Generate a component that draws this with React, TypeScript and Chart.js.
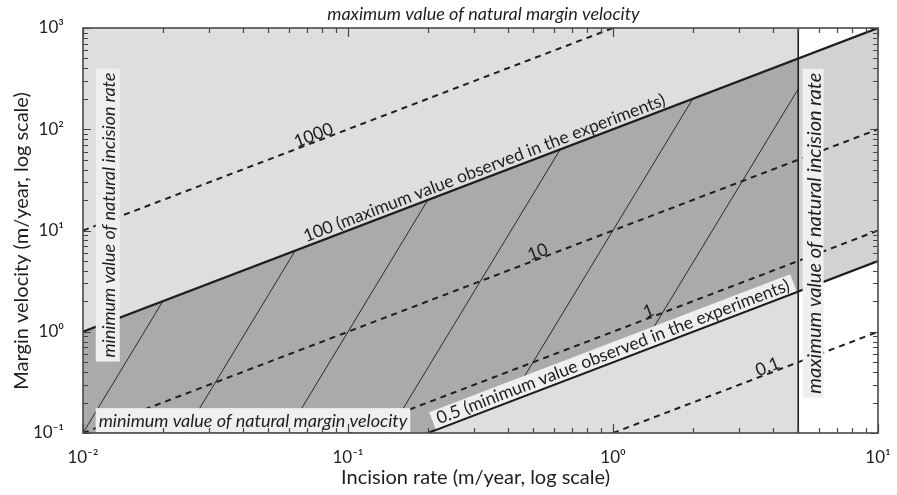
import React, { useEffect, useRef } from "react";
import { Chart, registerables } from "chart.js";
Chart.register(...registerables);

const FONT = "Lato, 'Noto Sans', sans-serif";
const TICK_FONT = "Lato, 'Noto Sans', 'DejaVu Sans', sans-serif";

// axis ranges and tick labels
const xRange = [0.01, 10];
const yRange = [0.1, 1000];
const xDecades = [0.01, 0.1, 1, 10];
const xTickLabels = ["10⁻²", "10⁻¹", "10⁰", "10¹"];
const yDecades = [0.1, 1, 10, 100, 1000];
const yTickLabels = ["10⁻¹", "10⁰", "10¹", "10²", "10³"];
const minorMultipliers = [2, 3, 4, 5, 6, 7, 8, 9];

const xTitle = "Incision rate (m/year, log scale)";
const yTitle = "Margin velocity (m/year, log scale)";
const topTitle = "maximum value of natural margin velocity";

// ratio lines (margin velocity / incision rate)
const dashed1000 = [{ x: 0.01, y: 10 }, { x: 1, y: 1000 }];
const dashed10 = [{ x: 0.01, y: 0.1 }, { x: 10, y: 100 }];
const dashed1 = [{ x: 0.1, y: 0.1 }, { x: 10, y: 10 }];
const dashed01 = [{ x: 1, y: 0.1 }, { x: 10, y: 1 }];
const solid100 = [{ x: 0.01, y: 1 }, { x: 10, y: 1000 }];
const solid05 = [{ x: 0.2, y: 0.1 }, { x: 10, y: 5 }];
const maxIncisionLine = [{ x: 5, y: 0.1 }, { x: 5, y: 1000 }];

// thin oblique lines inside the experimental range
const thin1 = [{ x: 0.01, y: 0.1 }, { x: 0.02, y: 2 }];
const thin2 = [{ x: 0.0242, y: 0.1 }, { x: 0.0632, y: 6.32 }];
const thin3 = [{ x: 0.0587, y: 0.1 }, { x: 0.2, y: 20 }];
const thin4 = [{ x: 0.142, y: 0.1 }, { x: 0.632, y: 63.2 }];
const thin5 = [{ x: 0.405, y: 0.203 }, { x: 2, y: 200 }];
const thin6 = [{ x: 1.25, y: 0.63 }, { x: 5, y: 250 }];
const thinLines = [thin1, thin2, thin3, thin4, thin5, thin6];

// shaded regions (data coordinates)
const naturalRegion = [[0.01, 0.1], [0.01, 1000], [5, 1000], [5, 0.1]];
const overlapRegion = [[0.01, 0.1], [0.01, 1], [5, 500], [5, 2.5], [0.2, 0.1]];
const experimentOnlyRegion = [[5, 500], [10, 1000], [10, 5], [5, 2.5]];

// labels along ratio lines: ratio, x position of label centre
const lineLabelTexts = ["1000", "100 (maximum value observed in the experiments)", "10", "1", "0.5 (minimum value observed in the experiments)", "0.1"];
const lineLabelRatios = [1000, 100, 10, 1, 0.5, 0.1];
const lineLabelAt = [0.0757, 0.337, 0.531, 1.39, 1.03, 3.91];

const vertLabelTexts = ["minimum value of natural incision rate", "maximum value of natural incision rate"];
const vertLabelX = [0.0124, 5.69];
const vertLabelY = [14.2, 9.4];
const vertLabelSize = [18, 20];
const vertBoxWidth = [24, 21];
const bottomLabelText = "minimum value of natural margin velocity";
const bottomLabelPos = [0.0438, 0.134];

const LIGHT = "#dedede";
const DARK = "#aaaaaa";
const MID = "#d2d2d2";
const BOX = "#efefef";
const INK = "#1e1e1e";

function buildTicks(decades: number[]) {
  const out: number[] = [];
  for (let i = 0; i < decades.length; i++) {
    out.push(decades[i]);
    if (i < decades.length - 1) minorMultipliers.forEach((m) => out.push(+(m * decades[i]).toPrecision(6)));
  }
  return out;
}
const xTicksAll = buildTicks(xDecades);
const yTicksAll = buildTicks(yDecades);

function labelFor(v: number, decades: number[], labels: string[]) {
  for (let i = 0; i < decades.length; i++) if (Math.abs(v - decades[i]) / decades[i] < 1e-6) return labels[i];
  return "";
}
function isMajor(v: number, decades: number[]) {
  return decades.some((d) => Math.abs(v - d) / d < 1e-6);
}

const decorPlugin = {
  id: "decor",
  beforeDatasetsDraw(chart: any) {
    const { ctx, chartArea: a, scales } = chart;
    const xs = scales.x, ys = scales.y;
    const poly = (pts: number[][], color: string) => {
      ctx.beginPath();
      pts.forEach((p, i) => {
        const px = xs.getPixelForValue(p[0]), py = ys.getPixelForValue(p[1]);
        if (i === 0) ctx.moveTo(px, py); else ctx.lineTo(px, py);
      });
      ctx.closePath();
      ctx.fillStyle = color;
      ctx.fill();
    };
    ctx.save();
    ctx.fillStyle = "#ffffff";
    ctx.fillRect(a.left, a.top, a.right - a.left, a.bottom - a.top);
    poly(naturalRegion, LIGHT);
    poly(experimentOnlyRegion, MID);
    poly(overlapRegion, DARK);
    ctx.restore();
  },
  afterDatasetsDraw(chart: any) {
    const { ctx, scales } = chart;
    const xs = scales.x, ys = scales.y;
    ctx.save();
    // labels along lines
    lineLabelTexts.forEach((text, i) => {
      const r = lineLabelRatios[i], xv = lineLabelAt[i];
      const x1 = xs.getPixelForValue(xv), y1 = ys.getPixelForValue(r * xv);
      const x2 = xs.getPixelForValue(xv * 2), y2 = ys.getPixelForValue(r * xv * 2);
      const ang = Math.atan2(y2 - y1, x2 - x1);
      const long = text.length > 5;
      const size = 17.5;
      ctx.save();
      ctx.translate(x1, y1);
      ctx.rotate(ang);
      ctx.font = `${size}px ${FONT}`;
      ctx.textAlign = "center";
      ctx.textBaseline = "alphabetic";
      const lift = long ? 4 : 1;
      if (text.startsWith("0.5")) {
        const w = ctx.measureText(text).width;
        ctx.fillStyle = BOX;
        ctx.fillRect(-w / 2 - 5, -lift - 15, w + 10, 14 + lift);
      }
      ctx.fillStyle = INK;
      ctx.fillText(text, 0, -lift);
      ctx.restore();
    });
    // vertical italic labels with boxes
    vertLabelTexts.forEach((text, i) => {
      const px = xs.getPixelForValue(vertLabelX[i]);
      const py = ys.getPixelForValue(vertLabelY[i]);
      ctx.save();
      ctx.translate(px, py);
      ctx.rotate(-Math.PI / 2);
      ctx.font = `italic ${vertLabelSize[i]}px ${FONT}`;
      const w = ctx.measureText(text).width;
      const bw = vertBoxWidth[i];
      ctx.fillStyle = BOX;
      ctx.fillRect(-w / 2 - 4, -bw / 2, w + 8, bw);
      ctx.fillStyle = INK;
      ctx.textAlign = "center";
      ctx.textBaseline = "middle";
      ctx.fillText(text, 0, 1);
      ctx.restore();
    });
    // bottom label
    {
      const px = xs.getPixelForValue(bottomLabelPos[0]);
      const py = ys.getPixelForValue(bottomLabelPos[1]);
      ctx.font = `italic 18px ${FONT}`;
      const w = ctx.measureText(bottomLabelText).width;
      ctx.fillStyle = BOX;
      ctx.fillRect(px - w / 2 - 3, py - 12, w + 6, 24);
      ctx.fillStyle = INK;
      ctx.textAlign = "center";
      ctx.textBaseline = "middle";
      ctx.fillText(bottomLabelText, px, py + 1);
    }
    ctx.restore();
  },
  afterDraw(chart: any) {
    const { ctx, chartArea: a, scales } = chart;
    const xs = scales.x, ys = scales.y;
    ctx.save();
    ctx.strokeStyle = "#444";
    ctx.lineWidth = 1.2;
    ctx.beginPath();
    xTicksAll.forEach((v) => {
      const p = Math.round(xs.getPixelForValue(v)) + 0.5;
      const len = isMajor(v, xDecades) ? 9 : 5;
      ctx.moveTo(p, a.bottom); ctx.lineTo(p, a.bottom - len);
      ctx.moveTo(p, a.top); ctx.lineTo(p, a.top + len);
    });
    yTicksAll.forEach((v) => {
      const p = Math.round(ys.getPixelForValue(v)) + 0.5;
      const len = isMajor(v, yDecades) ? 8 : 5;
      ctx.moveTo(a.left, p); ctx.lineTo(a.left + len, p);
      ctx.moveTo(a.right, p); ctx.lineTo(a.right - len, p);
    });
    ctx.stroke();
    ctx.lineWidth = 1.6;
    ctx.strokeStyle = "#4a4a4a";
    ctx.strokeRect(a.left, a.top, a.right - a.left, a.bottom - a.top);
    // titles
    ctx.fillStyle = INK;
    ctx.textAlign = "center";
    ctx.textBaseline = "middle";
    ctx.font = `italic 18px ${FONT}`;
    ctx.fillText(topTitle, (a.left + a.right) / 2 + 3, a.top - 14);
    ctx.font = `20px ${FONT}`;
    ctx.fillText(xTitle, (a.left + a.right) / 2 - 5, 478);
    ctx.save();
    ctx.translate(22, 241);
    ctx.rotate(-Math.PI / 2);
    ctx.fillText(yTitle, 0, 0);
    ctx.restore();
    ctx.restore();
  },
};

function lineDs(data: any[], width: number, dashed: boolean, color = INK) {
  return {
    data,
    showLine: true,
    borderColor: color,
    borderWidth: width,
    borderDash: dashed ? [6, 5] : [],
    pointRadius: 0,
    fill: false,
    tension: 0,
  };
}

export default function App() {
  const ref = useRef<HTMLCanvasElement | null>(null);
  useEffect(() => {
    if (!ref.current) return;
    const chart = new Chart(ref.current, {
      type: "scatter",
      data: {
        datasets: [
          lineDs(solid100, 2.2, false),
          lineDs(solid05, 2.2, false),
          lineDs(maxIncisionLine, 1.6, false),
          lineDs(dashed1000, 2, true),
          lineDs(dashed10, 2, true),
          lineDs(dashed1, 2, true),
          lineDs(dashed01, 2, true),
          ...thinLines.map((t) => lineDs(t, 1, false, "#2a2a2a")),
        ],
      },
      options: {
        animation: false,
        responsive: false,
        events: [],
        layout: { padding: { top: 28, right: 19, left: 0, bottom: 0 } },
        plugins: { legend: { display: false }, tooltip: { enabled: false } },
        scales: {
          x: {
            type: "logarithmic",
            min: xRange[0],
            max: xRange[1],
            afterFit: (s: any) => { s.height = 62; },
            afterBuildTicks: (s: any) => { s.ticks = xTicksAll.map((v) => ({ value: v })); },
            grid: { display: false },
            border: { display: false },
            ticks: {
              autoSkip: false,
              maxRotation: 0,
              padding: 6,
              color: INK,
              font: { family: TICK_FONT, size: 17 },
              callback: (v: any) => labelFor(Number(v), xDecades, xTickLabels),
            },
          },
          y: {
            type: "logarithmic",
            min: yRange[0],
            max: yRange[1],
            afterFit: (s: any) => { s.width = 83; },
            afterBuildTicks: (s: any) => { s.ticks = yTicksAll.map((v) => ({ value: v })); },
            grid: { display: false },
            border: { display: false },
            ticks: {
              autoSkip: false,
              padding: 11,
              color: INK,
              font: { family: TICK_FONT, size: 17 },
              callback: (v: any) => labelFor(Number(v), yDecades, yTickLabels),
            },
          },
        },
      } as any,
      plugins: [decorPlugin],
    });
    return () => chart.destroy();
  }, []);
  return (
    <div style={{ position: "fixed", left: 0, top: 0, width: 897, height: 495, background: "#fff" }}>
      <canvas ref={ref} width={897} height={495} style={{ width: 897, height: 495 }} />
    </div>
  );
}
